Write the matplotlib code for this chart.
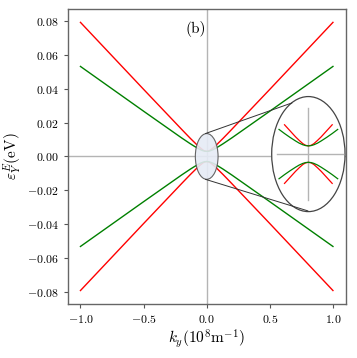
import numpy as np
import matplotlib
matplotlib.use("Agg")
import matplotlib.pyplot as plt
from matplotlib.patches import Ellipse, ConnectionPatch

plt.rcParams["font.family"] = "serif"
plt.rcParams["font.serif"] = ["cmr10"]
plt.rcParams["mathtext.fontset"] = "cm"
plt.rcParams["axes.formatter.use_mathtext"] = True

# upper branches for k >= 0 (bands are symmetric in k and E)
K_POS = [0.0, 0.015, 0.03, 0.05, 0.07, 0.1, 0.13, 0.16, 0.2, 0.5, 1.0]
RED_POS = [0.0030, 0.0032, 0.0038, 0.0050, 0.0063, 0.0085, 0.0107, 0.0130, 0.0161, 0.0396, 0.0791]
GREEN_POS = [0.0030, 0.0031, 0.0034, 0.0040, 0.0048, 0.0061, 0.0075, 0.0090, 0.0110, 0.0267, 0.0531]

RED_INSET_KMAX = 0.13
GREEN_INSET_KMAX = 0.17


def mirror(k_pos, e_pos):
    k = np.concatenate([-np.array(k_pos[:0:-1]), np.array(k_pos)])
    e = np.concatenate([np.array(e_pos[:0:-1]), np.array(e_pos)])
    return k, e


def main():
    k, red = mirror(K_POS, RED_POS)
    _, green = mirror(K_POS, GREEN_POS)

    fig = plt.figure(figsize=(3.57, 3.58), dpi=100)
    ax = fig.add_axes([0.19, 0.151, 0.778, 0.824])

    ax.axhline(0, color="#b4b4b4", lw=1.0, zorder=0)
    ax.axvline(0, color="#b4b4b4", lw=1.0, zorder=0)
    for sign in (1, -1):
        ax.plot(k, sign * red, color="red", lw=1.0)
        ax.plot(k, sign * green, color="green", lw=1.0)

    ax.add_patch(Ellipse((0, 0), 0.18, 0.027, facecolor="#e6ebf5", edgecolor="#555555",
                         lw=0.8, alpha=0.9, zorder=3))

    ax.set_xticks([-1.0, -0.5, 0.0, 0.5, 1.0])
    ax.set_yticks([-0.08, -0.06, -0.04, -0.02, 0.0, 0.02, 0.04, 0.06, 0.08])
    ax.tick_params(labelsize=8.5, length=3, width=0.8, color="#555555")
    for sp in ax.spines.values():
        sp.set_color("#666666")
        sp.set_linewidth(1.0)
    ax.set_xlabel(r"$k_y(10^8\mathrm{m}^{-1})$", fontsize=11, labelpad=2)
    ax.set_ylabel(r"$\varepsilon_Y^E(\mathrm{eV})$", fontsize=11, labelpad=2)
    ax.text(-0.09, 0.075, "(b)", fontsize=11, ha="center", va="center")

    # magnified view inside an ellipse
    ins = ax.inset_axes([0.734, 0.313, 0.264, 0.39])
    ins.set_facecolor("none")
    ins.axis("off")
    ins.add_patch(Ellipse((0.5, 0.5), 1.0, 1.0, transform=ins.transAxes, facecolor="white",
                          edgecolor="#444444", lw=0.9, zorder=0, clip_on=False))
    ins.axhline(0, xmin=0.07, xmax=0.97, color="#b4b4b4", lw=1.0, zorder=1)
    ins.axvline(0, ymin=0.1, ymax=0.9, color="#b4b4b4", lw=1.0, zorder=1)
    rm = np.abs(k) <= RED_INSET_KMAX
    gm = np.abs(k) <= GREEN_INSET_KMAX
    for sign in (1, -1):
        ins.plot(k[rm], sign * red[rm], color="red", lw=0.9, zorder=2)
        ins.plot(k[gm], sign * green[gm], color="green", lw=0.9, zorder=2)
    ins.set_xlim(-0.2, 0.2)
    ins.set_ylim(-0.021, 0.021)

    for (xa, ya), (xb, yb) in [((-0.01, 0.0135), (0.277, 0.945)), ((-0.01, -0.0135), (0.495, 0.006))]:
        con = ConnectionPatch(xyA=(xa, ya), coordsA=ax.transData, xyB=(xb, yb),
                              coordsB=ins.transAxes, color="#333333", lw=0.7, zorder=2)
        fig.add_artist(con)

    fig.savefig("out.png", dpi=100)


if __name__ == "__main__":
    main()
